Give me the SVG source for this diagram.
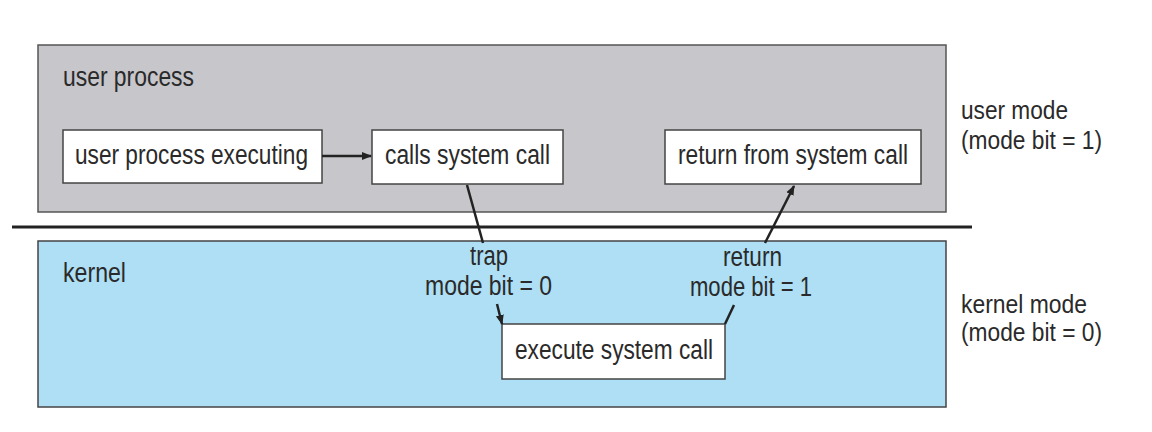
<svg xmlns="http://www.w3.org/2000/svg" width="1152" height="432" viewBox="0 0 1152 432">
<defs>
<marker id="ah" viewBox="0 0 10 10" refX="9" refY="5" markerWidth="10" markerHeight="10" markerUnits="userSpaceOnUse" orient="auto">
<path d="M0,1 L10,5 L0,9 Z" fill="#222"/>
</marker>
<style>
text{font-family:"Liberation Sans",Arial,sans-serif;font-size:27px;fill:#2a2a2a}
.m{font-size:25px}
.box{fill:#fff;stroke:#444;stroke-width:1.5}
.con{stroke:#222;stroke-width:2.5;fill:none}
</style>
</defs>
<rect width="1152" height="432" fill="#fff"/>
<g id="user-region">
<rect x="38" y="45" width="908" height="167" fill="#c7c6ca" stroke="#555" stroke-width="1.5"/>
<text x="63" y="86" textLength="131" lengthAdjust="spacingAndGlyphs">user process</text>
</g>
<g id="kernel-region">
<rect x="38" y="241" width="908" height="166" fill="#aedff4" stroke="#444" stroke-width="1.5"/>
<text x="63" y="282" textLength="63" lengthAdjust="spacingAndGlyphs">kernel</text>
</g>
<line x1="12" y1="227" x2="972" y2="227" stroke="#222" stroke-width="3"/>
<g id="mode-labels">
<text class="m" x="961" y="119" textLength="107" lengthAdjust="spacingAndGlyphs">user mode</text>
<text class="m" x="961" y="149" textLength="141" lengthAdjust="spacingAndGlyphs">(mode bit = 1)</text>
<text class="m" x="961" y="313" textLength="126" lengthAdjust="spacingAndGlyphs">kernel mode</text>
<text class="m" x="961" y="341" textLength="141" lengthAdjust="spacingAndGlyphs">(mode bit = 0)</text>
</g>
<g id="n1">
<rect class="box" x="63" y="130" width="259" height="53"/>
<text x="75" y="164" textLength="233" lengthAdjust="spacingAndGlyphs">user process executing</text>
</g>
<g id="n2">
<rect class="box" x="372" y="130" width="191" height="54"/>
<text x="385" y="164" textLength="165" lengthAdjust="spacingAndGlyphs">calls system call</text>
</g>
<g id="n3">
<rect class="box" x="665" y="130" width="256" height="54"/>
<text x="678" y="164" textLength="230" lengthAdjust="spacingAndGlyphs">return from system call</text>
</g>
<g id="n4">
<rect class="box" x="502" y="324" width="223" height="55"/>
<text x="515" y="359" textLength="198" lengthAdjust="spacingAndGlyphs">execute system call</text>
</g>
<g id="connectors">
<line class="con" x1="322" y1="156" x2="371" y2="156" marker-end="url(#ah)"/>
<line class="con" x1="467" y1="185" x2="483" y2="243"/>
<line class="con" x1="497" y1="304" x2="502" y2="324" marker-end="url(#ah)"/>
<line class="con" x1="725" y1="324" x2="734" y2="305"/>
<line class="con" x1="765" y1="243" x2="794" y2="186" marker-end="url(#ah)"/>
</g>
<g id="labels">
<text x="470" y="265" textLength="38" lengthAdjust="spacingAndGlyphs">trap</text>
<text x="425" y="295" textLength="127" lengthAdjust="spacingAndGlyphs">mode bit = 0</text>
<text x="723" y="266" textLength="59" lengthAdjust="spacingAndGlyphs">return</text>
<text x="690" y="296" textLength="122" lengthAdjust="spacingAndGlyphs">mode bit = 1</text>
</g>
</svg>
